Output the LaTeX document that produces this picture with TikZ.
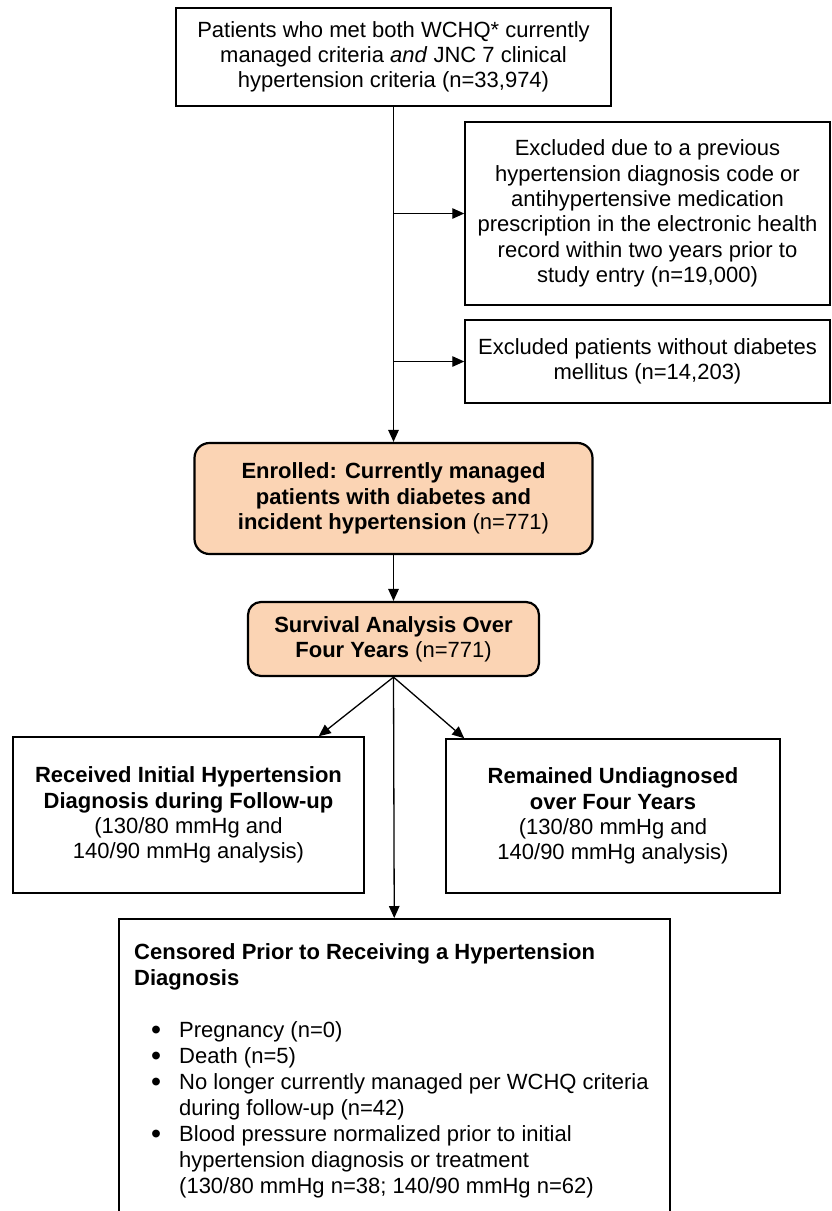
\documentclass[tikz,border=0pt]{standalone}
\usepackage{fontspec}
\setmainfont{Liberation Sans}
\usetikzlibrary{arrows.meta,calc}
\definecolor{peach}{HTML}{FBD4B4}
\newcommand\bitem{\makebox[45pt][l]{\hspace{17pt}\smash{\raisebox{-2pt}{\scalebox{1.3}{\textbullet}}}}}
\newcommand\bcont{\hspace*{45pt}}
\begin{document}
\begin{tikzpicture}[x=1pt,y=-1pt,
  txt/.style={font=\fontsize{22}{25.3}\selectfont, align=center, inner sep=0pt},
  box/.style={txt, draw=black, line width=1.5pt, fill=white},
  rbox/.style={txt, draw=black, line width=2.2pt, fill=peach, rounded corners=15pt},
  arr/.style={line width=1.3pt, -{Triangle[length=12pt,width=10.5pt]}}]
\useasboundingbox (0,0) rectangle (832,1211);
\clip (0,0) rectangle (832,1211);
\fill[white] (0,0) rectangle (832,1211);

\node[box, minimum width=435, minimum height=98] (top) at (393.5,57)
  {Patients who met both WCHQ* currently\\managed criteria \textit{and} JNC 7 clinical\\hypertension criteria (n=33,974)};

\node[box, minimum width=365, minimum height=183] (ex1) at (647.5,213.5)
  {Excluded due to a previous\\hypertension diagnosis code or\\antihypertensive medication\\prescription in the electronic health\\record within two years prior to\\study entry (n=19,000)};

\node[box, minimum width=365, minimum height=83] (ex2) at (647.5,361.5)
  {Excluded patients without diabetes\\mellitus (n=14,203)};

\node[rbox, minimum width=398, minimum height=111] (enr) at (393.5,498.5)
  {\textbf{Enrolled: Currently managed}\\\textbf{patients with diabetes and}\\\textbf{incident hypertension} (n=771)};

\node[rbox, rounded corners=13pt, minimum width=291, minimum height=74] (surv) at (393.5,639)
  {\textbf{Survival Analysis Over}\\\textbf{Four Years} (n=771)};

\node[box, minimum width=351, minimum height=156] (rec) at (188.5,815)
  {\textbf{Received Initial Hypertension}\\\textbf{Diagnosis during Follow-up}\\(130/80 mmHg and\\140/90 mmHg analysis)};

\node[box, minimum width=334, minimum height=154] (rem) at (613,816)
  {\textbf{Remained Undiagnosed}\\\textbf{over Four Years}\\(130/80 mmHg and\\140/90 mmHg analysis)};

\node[box, minimum width=551, minimum height=320, anchor=north west] (cens) at (118,918) {};
\node[txt, font=\fontsize{22}{26}\selectfont, align=left, anchor=north west] (censtxt) at (134,943)
  {\textbf{Censored Prior to Receiving a Hypertension}\\
   \textbf{Diagnosis}\\[26pt]
   \bitem Pregnancy (n=0)\\
   \bitem Death (n=5)\\
   \bitem No longer currently managed per WCHQ criteria\\
   \bcont during follow-up (n=42)\\
   \bitem Blood pressure normalized prior to initial\\
   \bcont hypertension diagnosis or treatment\\
   \bcont (130/80 mmHg n=38; 140/90 mmHg n=62)};

\draw[arr] (top.south) -- (enr.north);
\draw[arr] (top.south |- ex1.west) -- (ex1.west);
\draw[arr] (top.south |- ex2.west) -- (ex2.west);
\draw[arr] (enr.south) -- (surv.north);
\draw[arr] (surv.south) -- ($(rec.north east)+(-46,0)$);
\draw[arr] (surv.south) -- ($(rem.north west)+(19,0)$);
\draw[arr] (surv.south) -- (cens.north);
\end{tikzpicture}
\end{document}
